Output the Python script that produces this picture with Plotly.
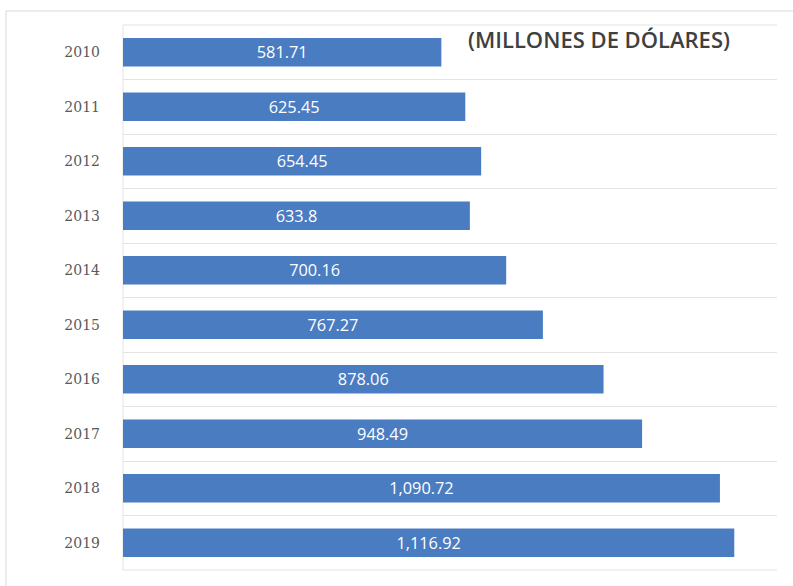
import plotly.graph_objects as go

# Annual values, millions of dollars
years = ["2010", "2011", "2012", "2013", "2014", "2015", "2016", "2017", "2018", "2019"]
values = [581.71, 625.45, 654.45, 633.8, 700.16, 767.27, 878.06, 948.49, 1090.72, 1116.92]

W, H = 793, 586
ML, MR, MT, MB = 123, 16, 25, 16
PW, PH = W - ML - MR, H - MT - MB
GRID = "#e3e3e3"


def fmt(v):
    s = f"{v:,.2f}"
    return s.rstrip("0").rstrip(".") if "." in s else s


labels = [fmt(v) for v in values]

fig = go.Figure(
    go.Bar(
        x=values,
        y=years,
        orientation="h",
        width=0.52,
        marker=dict(color="#4A7CC2", line=dict(width=0)),
        text=labels,
        textposition="inside",
        insidetextanchor="middle",
        textangle=0,
        textfont=dict(family="Open Sans", size=19, color="white"),
        hoverinfo="skip",
    )
)


def px_x(px):
    return (px - ML) / PW


def px_y(py):
    return 1 - (py - MT) / PH


# light frame around the chart area (open on the right)
fig.add_shape(
    type="path", xref="paper", yref="paper",
    path=f"M {px_x(810)},{px_y(11)} L {px_x(6)},{px_y(11)} L {px_x(6)},{px_y(600)}",
    line=dict(color="#d9d9d9", width=1), layer="below",
)
# top and bottom edges of the plot area, plus the left axis line
for yy in (0, 1):
    fig.add_shape(
        type="line", xref="paper", yref="paper",
        x0=0, x1=1, y0=yy, y1=yy,
        line=dict(color=GRID, width=1), layer="below",
    )
fig.add_shape(
    type="line", xref="paper", yref="paper",
    x0=0, x1=0, y0=0, y1=1,
    line=dict(color=GRID, width=1), layer="below",
)

fig.add_annotation(
    text="(MILLONES DE DÓLARES)",
    xref="paper", yref="paper",
    x=px_x(599), y=px_y(39),
    xanchor="center", yanchor="middle",
    showarrow=False,
    font=dict(family="Open Sans", size=22, color="#404040", weight=600),
)

fig.update_layout(
    width=W, height=H,
    margin=dict(l=ML, r=MR, t=MT, b=MB),
    paper_bgcolor="white",
    plot_bgcolor="white",
    showlegend=False,
    uniformtext=dict(mode="show", minsize=10),
    xaxis=dict(
        range=[0, 1195],
        showgrid=False,
        zeroline=False,
        showticklabels=False,
        showline=False,
        fixedrange=True,
    ),
    yaxis=dict(
        type="category",
        autorange="reversed",
        tickson="boundaries",
        showgrid=True,
        gridcolor=GRID,
        gridwidth=1,
        showline=False,
        ticks="",
        ticklabelstandoff=22,
        tickfont=dict(family="DejaVu Serif", size=14, color="#595959"),
        fixedrange=True,
    ),
)

fig.write_html("out.html")
